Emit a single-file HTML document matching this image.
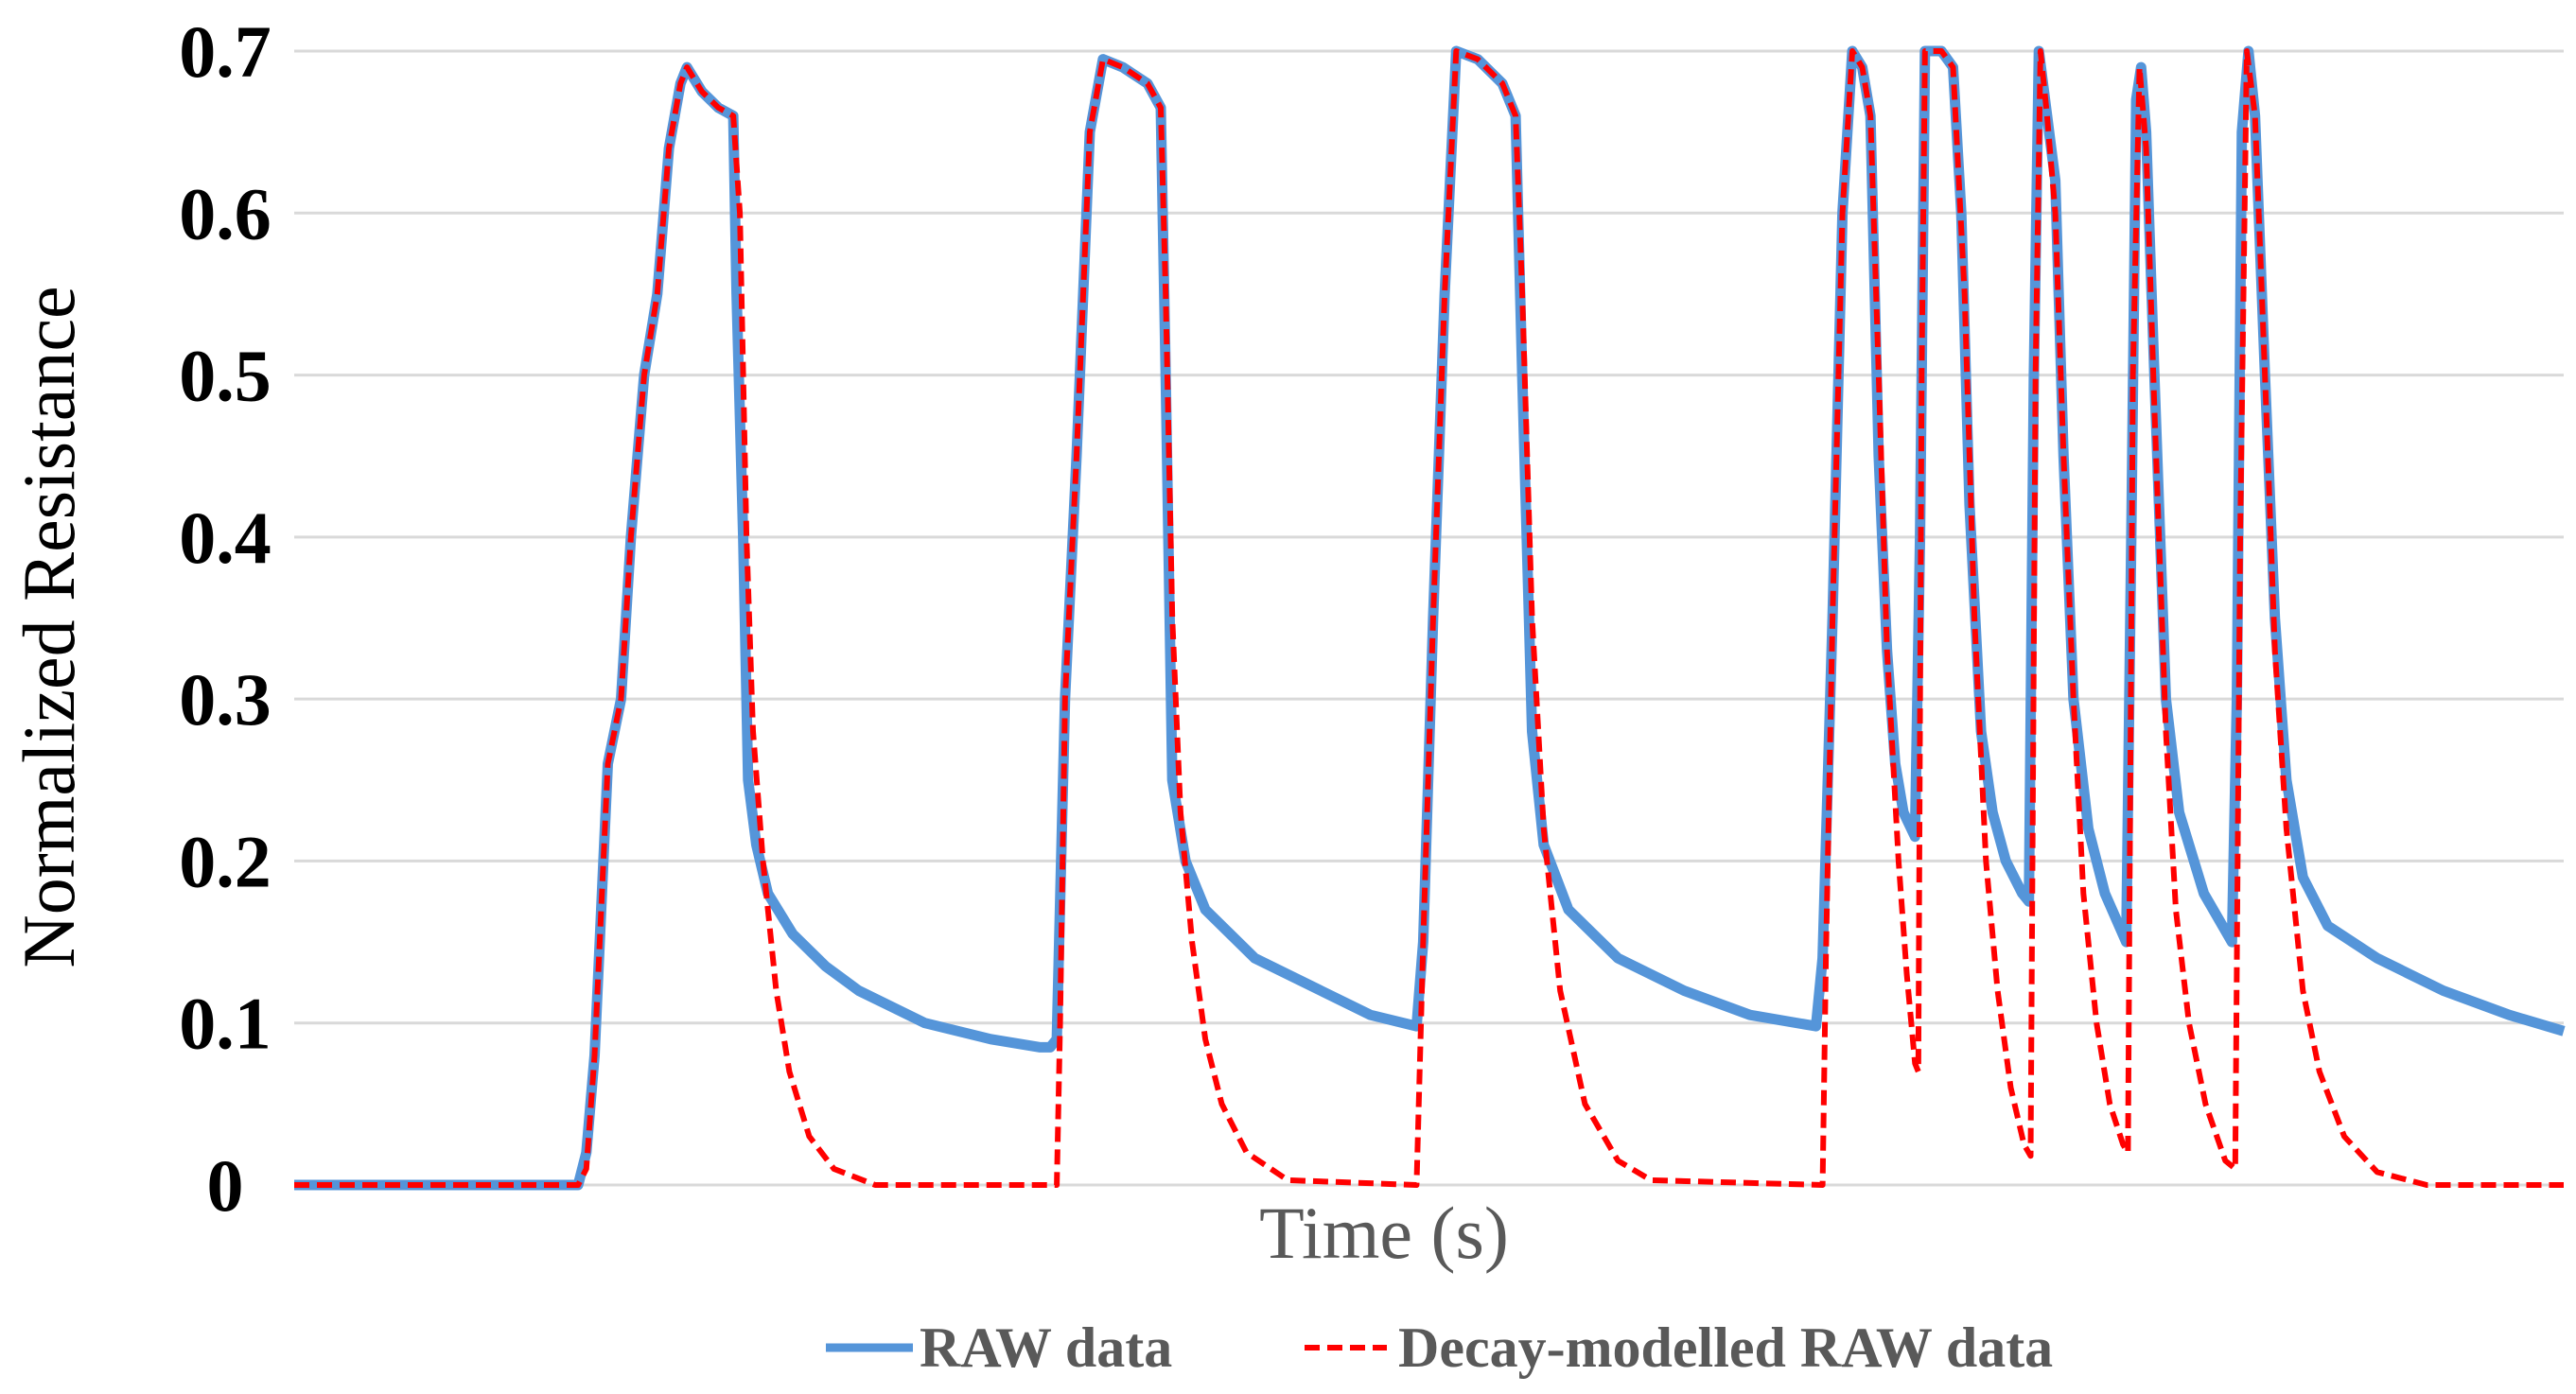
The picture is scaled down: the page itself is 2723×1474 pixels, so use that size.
<!DOCTYPE html>
<html><head><meta charset="utf-8"><style>
html,body{margin:0;padding:0;background:#fff;}
svg{display:block;}
text{font-family:"Liberation Serif",serif;}
</style></head><body>
<svg id="chart" width="2723" height="1474" viewBox="0 0 2723 1474">
<g id="grid"></g>
<g id="yticks"></g>
<g id="series"></g>
<text x="0" y="0" transform="translate(78,663) rotate(-90)" text-anchor="middle" font-size="78" fill="#000">Normalized Resistance</text>
<text x="1463" y="1330" text-anchor="middle" font-size="78" fill="#595959">Time (s)</text>
<g>
<g>
<line x1="873" y1="1425" x2="965" y2="1425" stroke="#5595d9" stroke-width="9"/>
<text x="972" y="1445" font-size="60" font-weight="bold" fill="#595959">RAW data</text>
</g>
<g>
<line x1="1379" y1="1425" x2="1466" y2="1425" stroke="#ff0000" stroke-width="6" stroke-dasharray="16,8"/>
<text x="1478" y="1445" font-size="60" font-weight="bold" fill="#595959">Decay-modelled RAW data</text>
</g>
</g>
</svg>
<script>
const yTicks = [0,0.1,0.2,0.3,0.4,0.5,0.6,0.7];
const yTickLabels = ["0","0.1","0.2","0.3","0.4","0.5","0.6","0.7"];
const rawTime = [178,350,355,360,368,376,382,390,398,405,412,416,425,435,444,446,450,453,458,465,480,500,520,540,560,600,630,636,640,645,652,660,668,680,695,703,706,710,718,730,760,800,830,858,862,868,875,882,895,910,918,922,928,935,950,980,1020,1060,1100,1104,1110,1116,1122,1128,1133,1138,1143,1148,1153,1160,1163,1166,1176,1183,1188,1193,1200,1207,1215,1225,1229,1232,1235,1240,1245,1250,1256,1265,1275,1288,1291,1294,1297,1300,1305,1312,1320,1335,1352,1355,1358,1362,1366,1372,1378,1385,1395,1410,1440,1480,1520,1553];
const rawValues = [0,0,0.02,0.08,0.26,0.30,0.40,0.50,0.55,0.64,0.68,0.69,0.675,0.665,0.66,0.55,0.40,0.25,0.21,0.18,0.155,0.135,0.12,0.11,0.10,0.09,0.085,0.085,0.09,0.30,0.45,0.65,0.695,0.69,0.68,0.665,0.50,0.25,0.20,0.17,0.14,0.12,0.105,0.098,0.15,0.35,0.55,0.70,0.695,0.68,0.66,0.50,0.28,0.21,0.17,0.14,0.12,0.105,0.098,0.14,0.35,0.60,0.70,0.69,0.66,0.45,0.33,0.26,0.23,0.215,0.40,0.70,0.70,0.69,0.60,0.42,0.28,0.23,0.20,0.18,0.175,0.50,0.70,0.66,0.62,0.45,0.30,0.22,0.18,0.15,0.40,0.67,0.69,0.65,0.50,0.30,0.23,0.18,0.15,0.30,0.65,0.70,0.66,0.50,0.35,0.25,0.19,0.16,0.14,0.12,0.105,0.095];
const modelTime = [178,350,355,360,368,376,382,390,398,405,412,416,425,435,444,448,452,456,462,470,478,490,505,530,640,642,645,652,660,668,680,695,703,706,710,715,722,730,740,755,780,858,862,868,875,882,895,910,918,922,928,935,945,960,980,1000,1104,1106,1110,1116,1122,1128,1133,1138,1143,1150,1155,1160,1162,1164,1166,1176,1183,1190,1196,1203,1210,1218,1226,1230,1233,1236,1240,1245,1250,1256,1262,1270,1278,1286,1289,1292,1296,1300,1305,1312,1318,1326,1336,1348,1354,1357,1361,1366,1372,1378,1385,1395,1405,1420,1440,1470,1553];
const modelValues = [0,0,0.01,0.08,0.26,0.30,0.40,0.50,0.55,0.64,0.68,0.69,0.675,0.665,0.66,0.60,0.40,0.28,0.20,0.12,0.07,0.03,0.01,0,0,0.10,0.30,0.45,0.65,0.695,0.69,0.68,0.665,0.55,0.35,0.23,0.15,0.09,0.05,0.02,0.003,0,0.15,0.35,0.55,0.70,0.695,0.68,0.66,0.55,0.35,0.22,0.12,0.05,0.015,0.003,0,0.14,0.35,0.60,0.70,0.69,0.66,0.50,0.33,0.20,0.13,0.075,0.07,0.50,0.70,0.70,0.69,0.55,0.35,0.20,0.12,0.06,0.025,0.018,0.50,0.70,0.66,0.60,0.45,0.30,0.18,0.10,0.05,0.025,0.02,0.50,0.69,0.64,0.48,0.28,0.17,0.10,0.05,0.015,0.01,0.40,0.70,0.66,0.50,0.33,0.22,0.12,0.07,0.03,0.008,0,0];

const X0=311,X1=2710,Y0=1253,Y1=54,TMIN=178,TMAX=1553,VMAX=0.7;
function xScale(t){return X0+(t-TMIN)/(TMAX-TMIN)*(X1-X0);}
function yScale(v){return Y0-v/VMAX*(Y0-Y1);}
const NS="http://www.w3.org/2000/svg";
const grid=document.getElementById('grid'),yt=document.getElementById('yticks'),ser=document.getElementById('series');
yTicks.forEach((v,i)=>{
  const l=document.createElementNS(NS,'line');
  l.setAttribute('x1',X0);l.setAttribute('x2',X1);
  l.setAttribute('y1',yScale(v));l.setAttribute('y2',yScale(v));
  l.setAttribute('stroke','#d9d9d9');l.setAttribute('stroke-width','3');
  
  
  grid.appendChild(l);
  const t=document.createElementNS(NS,'text');
  t.setAttribute('x',238);t.setAttribute('y',yScale(v)+27);
  t.setAttribute('text-anchor','middle');t.setAttribute('font-size','78');
  t.setAttribute('font-weight','bold');t.setAttribute('fill','#000');
  t.textContent=yTickLabels[i];
  
  
  yt.appendChild(t);
});
function pathFor(ts,vs){return ts.map((t,i)=>(i?'L':'M')+xScale(t).toFixed(1)+','+yScale(vs[i]).toFixed(1)).join(' ');}
const raw=document.createElementNS(NS,'path');
raw.setAttribute('d',pathFor(rawTime,rawValues));
raw.setAttribute('fill','none');raw.setAttribute('stroke','#5595d9');raw.setAttribute('stroke-width','11');raw.setAttribute('stroke-linejoin','round');


ser.appendChild(raw);
const mod=document.createElementNS(NS,'path');
mod.setAttribute('d',pathFor(modelTime,modelValues));
mod.setAttribute('fill','none');mod.setAttribute('stroke','#ff0000');mod.setAttribute('stroke-width','6');mod.setAttribute('stroke-dasharray','16,8');mod.setAttribute('stroke-linejoin','round');


ser.appendChild(mod);
</script>
</body></html>
